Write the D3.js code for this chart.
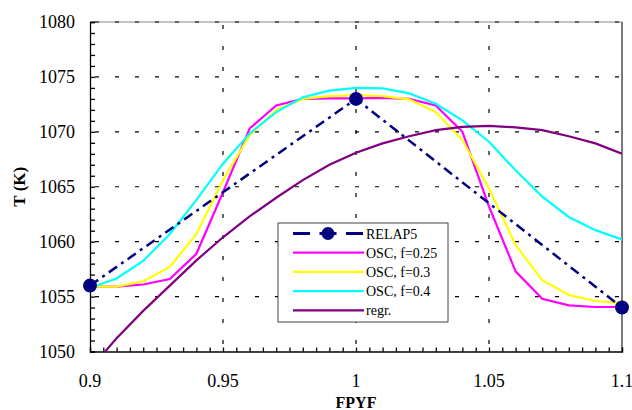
<!DOCTYPE html>
<html>
<head>
<meta charset="utf-8">
<script src="https://cdn.jsdelivr.net/npm/d3@7"></script>
<style>
  body { margin: 0; background: #fff; }
</style>
</head>
<body>
<div id="viz"></div>
<script>
// values
const fpyf = [0.90, 0.91, 0.92, 0.93, 0.94, 0.95, 0.96, 0.97, 0.98, 0.99, 1.00,
              1.01, 1.02, 1.03, 1.04, 1.05, 1.06, 1.07, 1.08, 1.09, 1.10];
const osc025 = [1055.9, 1055.9, 1056.1, 1056.6, 1058.9, 1064.5, 1070.3, 1072.4, 1073.0, 1073.05, 1073.05,
                1073.1, 1073.0, 1072.4, 1070.0, 1063.2, 1057.3, 1054.8, 1054.2, 1054.05, 1054.05];
const osc03 = [1055.9, 1055.9, 1056.4, 1057.7, 1060.7, 1065.6, 1069.7, 1072.0, 1073.0, 1073.25, 1073.35,
               1073.25, 1072.95, 1071.8, 1069.25, 1064.85, 1059.7, 1056.5, 1055.15, 1054.6, 1054.4];
const osc04 = [1055.8, 1056.65, 1058.25, 1060.7, 1063.8, 1067.1, 1069.85, 1071.8, 1073.15, 1073.75, 1074.0,
               1073.95, 1073.5, 1072.55, 1071.05, 1069.1, 1066.5, 1064.1, 1062.25, 1061.05, 1060.2];
const regr = [1048.4, 1051.2, 1053.7, 1056.0, 1058.3, 1060.4, 1062.3, 1064.0, 1065.6, 1067.0, 1068.1,
              1068.95, 1069.6, 1070.15, 1070.45, 1070.55, 1070.4, 1070.15, 1069.6, 1068.95, 1068.0];
const relapX = [0.9, 1.0, 1.1];
const relapT = [1056, 1073, 1054];

const xTicks = [0.9, 0.95, 1, 1.05, 1.1];
const yTicks = [1050, 1055, 1060, 1065, 1070, 1075, 1080];

const series = [
  { name: "OSC, f=0.25", values: osc025, color: "#ff00ff" },
  { name: "OSC, f=0.3", values: osc03, color: "#ffff00" },
  { name: "OSC, f=0.4", values: osc04, color: "#00ffff" },
  { name: "regr.", values: regr, color: "#800080" }
];

const font = "'Liberation Serif', 'Times New Roman', Times, 'DejaVu Serif', serif";
const width = 632, height = 410;
const margin = { top: 22, right: 10, bottom: 58.5, left: 90 };

const svg = d3.select("#viz").append("svg")
  .attr("width", width)
  .attr("height", height)
  .attr("font-family", font);

const x = d3.scaleLinear().domain([0.9, 1.1]).range([margin.left, width - margin.right]);
const y = d3.scaleLinear().domain([1050, 1080]).range([height - margin.bottom, margin.top]);

svg.append("clipPath").attr("id", "clip")
  .append("rect")
  .attr("x", x(0.9)).attr("y", y(1080))
  .attr("width", x(1.1) - x(0.9)).attr("height", y(1050) - y(1080));

// frame
svg.append("line")
  .attr("x1", x(0.9)).attr("x2", x(1.1)).attr("y1", y(1080)).attr("y2", y(1080))
  .attr("stroke", "#888").attr("stroke-width", 1.2);
svg.append("line")
  .attr("x1", x(1.1)).attr("x2", x(1.1)).attr("y1", y(1080)).attr("y2", y(1050))
  .attr("stroke", "#222").attr("stroke-width", 1.2);

// grid
svg.append("g").selectAll("line")
  .data(yTicks.slice(1))
  .join("line")
  .attr("x1", x(0.9)).attr("x2", x(1.1))
  .attr("y1", d => y(d)).attr("y2", d => y(d))
  .attr("stroke", "#000").attr("stroke-width", 1.2)
  .attr("stroke-dasharray", "4,16")
  .attr("stroke-dashoffset", -5);

svg.append("g").selectAll("line")
  .data(xTicks.slice(1, 4))
  .join("line")
  .attr("x1", d => x(d)).attr("x2", d => x(d))
  .attr("y1", y(1080)).attr("y2", y(1050))
  .attr("stroke", "#000").attr("stroke-width", 1.2)
  .attr("stroke-dasharray", "4,17")
  .attr("stroke-dashoffset", -3);

// axes
const xAxis = d3.axisBottom(x)
  .tickValues(d3.range(0, 41).map(i => 0.9 + i * 0.005))
  .tickSize(-4).tickFormat("");
svg.append("g")
  .attr("transform", `translate(0,${y(1050)})`)
  .call(xAxis)
  .call(g => g.selectAll("path, line").attr("stroke", "#000").attr("stroke-width", 1.3));

const yAxis = d3.axisLeft(y)
  .tickValues(d3.range(1050, 1081))
  .tickSize(-5).tickFormat("");
svg.append("g")
  .attr("transform", `translate(${x(0.9)},0)`)
  .call(yAxis)
  .call(g => g.selectAll("path, line").attr("stroke", "#000").attr("stroke-width", 1.3));

svg.append("g").selectAll("text")
  .data(xTicks)
  .join("text")
  .attr("x", d => x(d)).attr("y", 387)
  .attr("text-anchor", "middle")
  .attr("font-size", 18)
  .text(d => d);

svg.append("g").selectAll("text")
  .data(yTicks)
  .join("text")
  .attr("x", 75).attr("y", d => y(d) + 6)
  .attr("text-anchor", "end")
  .attr("font-size", 18)
  .text(d => d);

svg.append("text")
  .attr("x", x(1)).attr("y", 407.5)
  .attr("text-anchor", "middle")
  .attr("font-size", 16).attr("font-weight", "bold")
  .text("FPYF");

svg.append("text")
  .attr("transform", `translate(25,${(y(1050) + y(1080)) / 2}) rotate(-90)`)
  .attr("text-anchor", "middle")
  .attr("font-size", 17).attr("font-weight", "bold")
  .text("T (K)");

// curves
const line = d3.line()
  .x((d, i) => x(fpyf[i]))
  .y(d => y(d));

const plot = svg.append("g").attr("clip-path", "url(#clip)");

plot.selectAll("path.osc")
  .data(series)
  .join("path")
  .attr("class", "osc")
  .attr("d", d => line(d.values))
  .attr("fill", "none")
  .attr("stroke", d => d.color)
  .attr("stroke-width", 2.2);

const relap = relapX.map((v, i) => [v, relapT[i]]);
svg.append("path")
  .attr("d", d3.line().x(d => x(d[0])).y(d => y(d[1]))(relap))
  .attr("fill", "none")
  .attr("stroke", "#000080")
  .attr("stroke-width", 2.5)
  .attr("stroke-dasharray", "10,5,3,5");

svg.append("g").selectAll("circle")
  .data(relap)
  .join("circle")
  .attr("cx", d => x(d[0])).attr("cy", d => y(d[1]))
  .attr("r", 7)
  .attr("fill", "#000080");

// legend
const legend = svg.append("g").attr("transform", "translate(278,223)");
legend.append("rect")
  .attr("width", 170).attr("height", 99)
  .attr("fill", "#fff").attr("stroke", "#444").attr("stroke-width", 1);

const entries = [{ name: "RELAP5", color: "#000080" }].concat(series);
const rows = legend.selectAll("g.row")
  .data(entries)
  .join("g")
  .attr("class", "row")
  .attr("transform", (d, i) => `translate(0,${10.5 + i * 19.2})`);

rows.append("line")
  .attr("x1", 15).attr("x2", 86)
  .attr("stroke", d => d.color)
  .attr("stroke-width", (d, i) => i === 0 ? 2.8 : 2.2)
  .attr("stroke-dasharray", (d, i) => i === 0 ? "17,9.5" : null);

rows.filter((d, i) => i === 0).append("circle")
  .attr("cx", 50).attr("r", 6.5).attr("fill", "#000080");

rows.append("text")
  .attr("x", 88).attr("y", 5)
  .attr("font-size", 14)
  .text(d => d.name);
</script>
</body>
</html>
